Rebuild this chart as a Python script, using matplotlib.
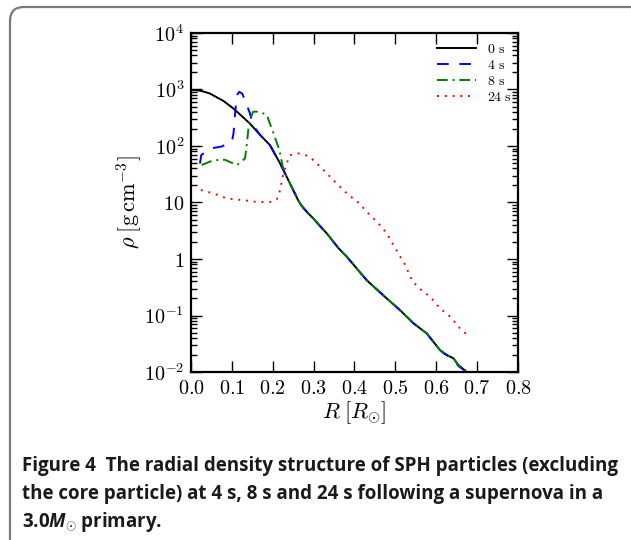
import numpy as np
import matplotlib
matplotlib.use("Agg")
from matplotlib import pyplot as plt
from matplotlib.patches import FancyBboxPatch
from matplotlib.transforms import IdentityTransform

plt.rcParams['mathtext.fontset'] = 'cm'
# custom math fonts, only used by the caption
plt.rcParams['mathtext.rm'] = 'Open Sans:bold'
plt.rcParams['mathtext.it'] = 'Open Sans:italic:bold'
plt.rcParams['mathtext.bf'] = 'Open Sans:bold'

# 0 s
r0 = [0.005, 0.025, 0.046, 0.065, 0.079, 0.103, 0.125, 0.144, 0.169, 0.193, 0.218,
      0.234, 0.25, 0.262, 0.268, 0.275, 0.287, 0.299, 0.316, 0.332, 0.361, 0.381,
      0.43, 0.479, 0.511, 0.544, 0.577, 0.609, 0.62, 0.642, 0.654, 0.674, 0.69]
rho0 = [980, 945, 850, 715, 630, 465, 335, 250, 157, 104, 49,
        28.6, 16.6, 11, 9.3, 8.0, 6.4, 5.25, 3.8, 2.85, 1.55, 1.1,
        0.42, 0.2, 0.125, 0.073, 0.048, 0.0245, 0.021, 0.0175, 0.0133, 0.0101, 0.0075]

# 4 s
r4 = [0.022, 0.025, 0.05, 0.075, 0.1, 0.104, 0.108, 0.112, 0.118, 0.125, 0.132, 0.144,
      0.152, 0.169, 0.193, 0.218, 0.234, 0.25, 0.262, 0.268, 0.275, 0.287, 0.299,
      0.316, 0.332, 0.361, 0.381, 0.43, 0.479, 0.511, 0.544, 0.577, 0.609, 0.63,
      0.645, 0.654, 0.674, 0.69]
rho4 = [49, 69, 91, 98, 120, 167, 380, 790, 910, 850, 650, 380,
        230, 157, 104, 49, 28.6, 16.6, 11, 9.3, 8.0, 6.4, 5.25,
        3.8, 2.85, 1.55, 1.1, 0.42, 0.2, 0.125, 0.073, 0.048, 0.0245, 0.019,
        0.0165, 0.0128, 0.0101, 0.0075]

# 8 s
r8 = [0.026, 0.055, 0.083, 0.112, 0.132, 0.136, 0.14, 0.143, 0.152, 0.165, 0.185,
      0.205, 0.216, 0.225, 0.234, 0.25, 0.262, 0.268, 0.275, 0.287, 0.299, 0.316,
      0.332, 0.361, 0.381, 0.43, 0.479, 0.511, 0.544, 0.577, 0.609, 0.62, 0.642,
      0.654, 0.674, 0.69]
rho8 = [46, 56, 57, 46, 60, 98, 190, 270, 405, 405, 360,
        145, 85, 42, 28.6, 16.6, 11, 9.3, 8.0, 6.4, 5.25, 3.8,
        2.85, 1.55, 1.1, 0.42, 0.2, 0.125, 0.073, 0.048, 0.0245, 0.021, 0.0175,
        0.0133, 0.0101, 0.0075]

# 24 s
r24 = [0.024, 0.055, 0.087, 0.128, 0.161, 0.193, 0.21, 0.218, 0.226, 0.234, 0.242,
       0.262, 0.28, 0.295, 0.316, 0.348, 0.381, 0.409, 0.434, 0.458, 0.479, 0.491,
       0.507, 0.524, 0.542, 0.564, 0.585, 0.609, 0.634, 0.658, 0.683]
rho24 = [16.6, 14.5, 11.8, 11, 10.2, 10.2, 11.4, 16.6, 33, 49, 69,
         74, 69, 60, 43, 25, 14.5, 10, 6.4, 4.3, 2.85, 2.0,
         1.26, 0.78, 0.40, 0.28, 0.215, 0.134, 0.096, 0.059, 0.041]

xticks = [0.0, 0.1, 0.2, 0.3, 0.4, 0.5, 0.6, 0.7, 0.8]
yticks = [1e-2, 1e-1, 1, 10, 1e2, 1e3, 1e4]
ylabels = [r'$10^{-2}$', r'$10^{-1}$', r'$1$', r'$10$', r'$10^{2}$', r'$10^{3}$', r'$10^{4}$']

fig = plt.figure(figsize=(6.31, 5.40), dpi=100)

# rounded frame around the figure
frame = FancyBboxPatch((10, -30), 650, 563, boxstyle="round,pad=0,rounding_size=14",
                       transform=IdentityTransform(), facecolor='none',
                       edgecolor='#7a7a7a', linewidth=1.6)
fig.patches.append(frame)

ax = fig.add_axes([0.3027, 0.3111, 0.5182, 0.6278])
ax.plot(r0, rho0, color='k', lw=1.4, label=r'$\mathrm{0\ s}$')
ax.plot(r4, rho4, color='b', lw=1.4, ls=(0, (6, 5.5)), label=r'$\mathrm{4\ s}$')
ax.plot(r8, rho8, color='g', lw=1.4, ls=(0, (5.5, 2.5, 1, 2.5)), label=r'$\mathrm{8\ s}$')
ax.plot(r24, rho24, color='r', lw=1.4, ls=(0, (1, 3)), label=r'$\mathrm{24\ s}$')

ax.set_yscale('log')
ax.set_xlim(0, 0.8)
ax.set_ylim(1e-2, 1e4)
ax.set_xticks(xticks)
ax.set_xticklabels([r'$%.1f$' % t for t in xticks])
ax.set_yticks(yticks)
ax.set_yticklabels(ylabels)
ax.tick_params(which='both', direction='in', top=True, right=True, labelsize=14.5, width=1)
ax.tick_params(which='major', length=8, pad=5)
ax.tick_params(which='minor', length=4)
ax.xaxis.set_minor_locator(matplotlib.ticker.NullLocator())
ax.yaxis.set_minor_locator(matplotlib.ticker.LogLocator(base=10, subs=np.arange(2, 10)))
ax.yaxis.set_minor_formatter(matplotlib.ticker.NullFormatter())
for s in ax.spines.values():
    s.set_linewidth(1.6)

ax.set_xlabel(r'$R\;[R_{\odot}]$', fontsize=16, labelpad=1)
ax.set_ylabel(r'$\rho\;[\mathrm{g\,cm^{-3}}]$', fontsize=16, labelpad=0)

ax.legend(loc='upper right', frameon=False, fontsize=10, handlelength=2.8,
          handletextpad=0.8, labelspacing=0.15, bbox_to_anchor=(1.02, 1.01))

caption = ["Figure 4  The radial density structure of SPH particles (excluding",
           "the core particle) at 4 s, 8 s and 24 s following a supernova in a",
           r"3.0$M_{\odot}$ primary."]
for i, line in enumerate(caption):
    fig.text(22 / 631, 1 - (466 + 28 * i) / 540, line, fontsize=13.5, fontweight='bold',
             family='Open Sans', va='center', ha='left', color='#1a1a1a',
             math_fontfamily='custom')

fig.savefig('out.png', dpi=100)
